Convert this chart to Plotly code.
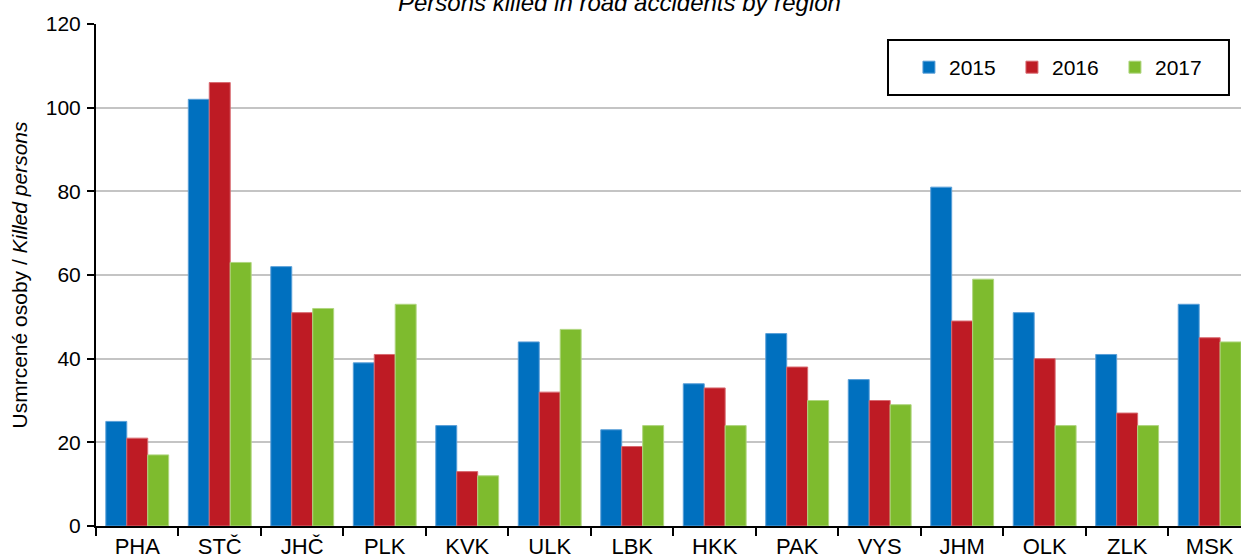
import plotly.graph_objects as go

# Road fatalities by region of the Czech Republic
regions = ["PHA", "STČ", "JHČ", "PLK", "KVK", "ULK", "LBK",
           "HKK", "PAK", "VYS", "JHM", "OLK", "ZLK", "MSK"]
killed_2015 = [25, 102, 62, 39, 24, 44, 23, 34, 46, 35, 81, 51, 41, 53]
killed_2016 = [21, 106, 51, 41, 13, 32, 19, 33, 38, 30, 49, 40, 27, 45]
killed_2017 = [17, 63, 52, 53, 12, 47, 24, 24, 30, 29, 59, 24, 24, 44]
years = ["2015", "2016", "2017"]
y_ticks = [0, 20, 40, 60, 80, 100, 120]

series = [killed_2015, killed_2016, killed_2017]
fills = ["#0070BF", "#BE1B24", "#7EBB2E"]
edges = ["#5A9FD8", "#D86A70", "#B0D680"]

FONT = "Liberation Sans, Arial, Helvetica, sans-serif"

fig = go.Figure()
for name, vals, fc, ec in zip(years, series, fills, edges):
    fig.add_trace(go.Bar(
        x=regions, y=vals, name=name,
        marker=dict(color=fc, line=dict(color=ec, width=1)),
    ))

fig.update_layout(
    width=1241, height=560,
    margin=dict(l=96, r=0, t=24, b=34),
    paper_bgcolor="white", plot_bgcolor="white",
    barmode="group", bargap=0.238, bargroupgap=0,
    font=dict(family=FONT, color="black", size=21),
    showlegend=True,
    legend=dict(
        orientation="h", x=0.710, xanchor="left", y=0.9133, yanchor="middle",
        borderwidth=0, bgcolor="rgba(0,0,0,0)",
        font=dict(size=21), entrywidth=58, entrywidthmode="pixels",
        itemwidth=30,
    ),
    # frame around the legend
    shapes=[dict(
        type="rect", xref="paper", yref="paper",
        x0=0.6917, x1=0.9895, y0=0.8586, y1=0.968,
        line=dict(color="black", width=2), fillcolor="white", layer="below",
    )],
    annotations=[dict(
        text="<i>Persons killed in road accidents by region</i>",
        xref="paper", yref="paper", x=0.4576, y=1.0428,
        xanchor="center", yanchor="middle", showarrow=False,
        font=dict(size=24, color="black"),
    )],
)

fig.update_xaxes(
    type="category", range=[-0.5, 13.38],
    showline=True, linecolor="black", linewidth=2,
    ticks="outside", tickson="boundaries", ticklen=8, tickwidth=2, tickcolor="black",
    tickfont=dict(size=22), showgrid=False,
)
fig.update_yaxes(
    range=[0, 120], tickvals=y_ticks,
    showline=True, linecolor="black", linewidth=2,
    ticks="outside", ticklen=7, tickwidth=2, tickcolor="black",
    tickfont=dict(size=21), ticklabelstandoff=2,
    showgrid=True, gridcolor="#C4C4C4", gridwidth=1.5,
    zeroline=False,
    title=dict(text="Usmrcené osoby / <i>Killed persons</i>",
               font=dict(size=21), standoff=12),
)

fig.write_html("out.html")
